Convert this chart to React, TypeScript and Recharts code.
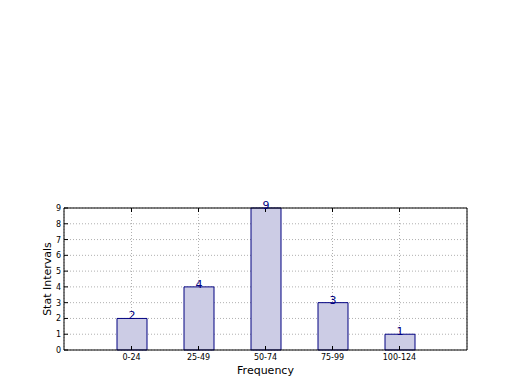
import React from 'react';
import { BarChart, Bar, XAxis, YAxis, CartesianGrid, LabelList } from 'recharts';

const categories = ['0-24', '25-49', '50-74', '75-99', '100-124'];
const counts = [2, 4, 9, 3, 1];
const yTicks = [0, 1, 2, 3, 4, 5, 6, 7, 8, 9];

const data = categories.map((name, i) => ({ name, count: counts[i] }));

const FONT = '"DejaVu Sans", sans-serif';

// matplotlib-like inward ticks (tickSize=0 so x/y sit on the axis line)
const LeftTick = (props: any) => {
  const { x, y, payload } = props;
  return (
    <g>
      <line x1={x} x2={x + 4} y1={y} y2={y} stroke="#000" />
      <text x={x - 3} y={y} dy={3} textAnchor="end" fontSize={8} fontFamily={FONT} fill="#000">
        {payload.value}
      </text>
    </g>
  );
};

const RightTick = (props: any) => {
  const { x, y } = props;
  return <line x1={x} x2={x - 4} y1={y} y2={y} stroke="#000" />;
};

const BottomTick = (props: any) => {
  const { x, y, payload } = props;
  return (
    <g>
      <line x1={x} x2={x} y1={y} y2={y - 4} stroke="#000" />
      <text x={x} y={y + 10} textAnchor="middle" fontSize={8} fontFamily={FONT} fill="#000">
        {payload.value}
      </text>
    </g>
  );
};

const TopTick = (props: any) => {
  const { x, y } = props;
  return <line x1={x} x2={x} y1={y} y2={y + 4} stroke="#000" />;
};

const ValueLabel = (props: any) => {
  const { x, y, width, value } = props;
  return (
    <text x={x + width / 2} y={y + 1} textAnchor="middle" fontSize={11} fontFamily={FONT} fill="#000080">
      {value}
    </text>
  );
};

export default function App() {
  return (
    <div style={{ position: 'fixed', left: 0, top: 0, width: 520, height: 390, background: '#fff' }}>
      <BarChart width={520} height={390} data={data} margin={{ top: 207, right: 52, left: 0, bottom: 0 }}>
        <XAxis
          dataKey="name"
          xAxisId="b"
          height={40}
          padding={{ left: 34, right: 34 }}
          tickLine={false}
          tickSize={0}
          tickMargin={0}
          tick={<BottomTick />}
          axisLine={{ stroke: '#000' }}
          interval={0}
          label={{ value: 'Frequency', position: 'insideBottom', offset: 16, fontSize: 11, fontFamily: FONT, fill: '#000' }}
        />
        <XAxis
          dataKey="name"
          xAxisId="t"
          orientation="top"
          height={1}
          padding={{ left: 34, right: 34 }}
          tickLine={false}
          tickSize={0}
          tickMargin={0}
          tick={<TopTick />}
          axisLine={{ stroke: '#000' }}
          interval={0}
        />
        <YAxis
          yAxisId="l"
          width={64}
          domain={[0, 9]}
          ticks={yTicks}
          interval={0}
          tickLine={false}
          tickSize={0}
          tickMargin={0}
          tick={<LeftTick />}
          axisLine={{ stroke: '#000' }}
          label={{ value: 'Stat Intervals', angle: -90, position: 'insideLeft', offset: 47, style: { textAnchor: 'middle' }, fontSize: 11, fontFamily: FONT, fill: '#000' }}
        />
        <YAxis
          yAxisId="r"
          orientation="right"
          width={1}
          domain={[0, 9]}
          ticks={yTicks}
          interval={0}
          tickLine={false}
          tickSize={0}
          tickMargin={0}
          tick={<RightTick />}
          axisLine={{ stroke: '#000' }}
        />
        <Bar dataKey="count" xAxisId="b" yAxisId="l" barSize={30} fill="#ccccE5" stroke="#000080" strokeWidth={1} isAnimationActive={false}>
          <LabelList dataKey="count" content={<ValueLabel />} />
        </Bar>
        <CartesianGrid xAxisId="b" yAxisId="l" stroke="#b0b0b0" strokeDasharray="1 2" />
      </BarChart>
    </div>
  );
}
